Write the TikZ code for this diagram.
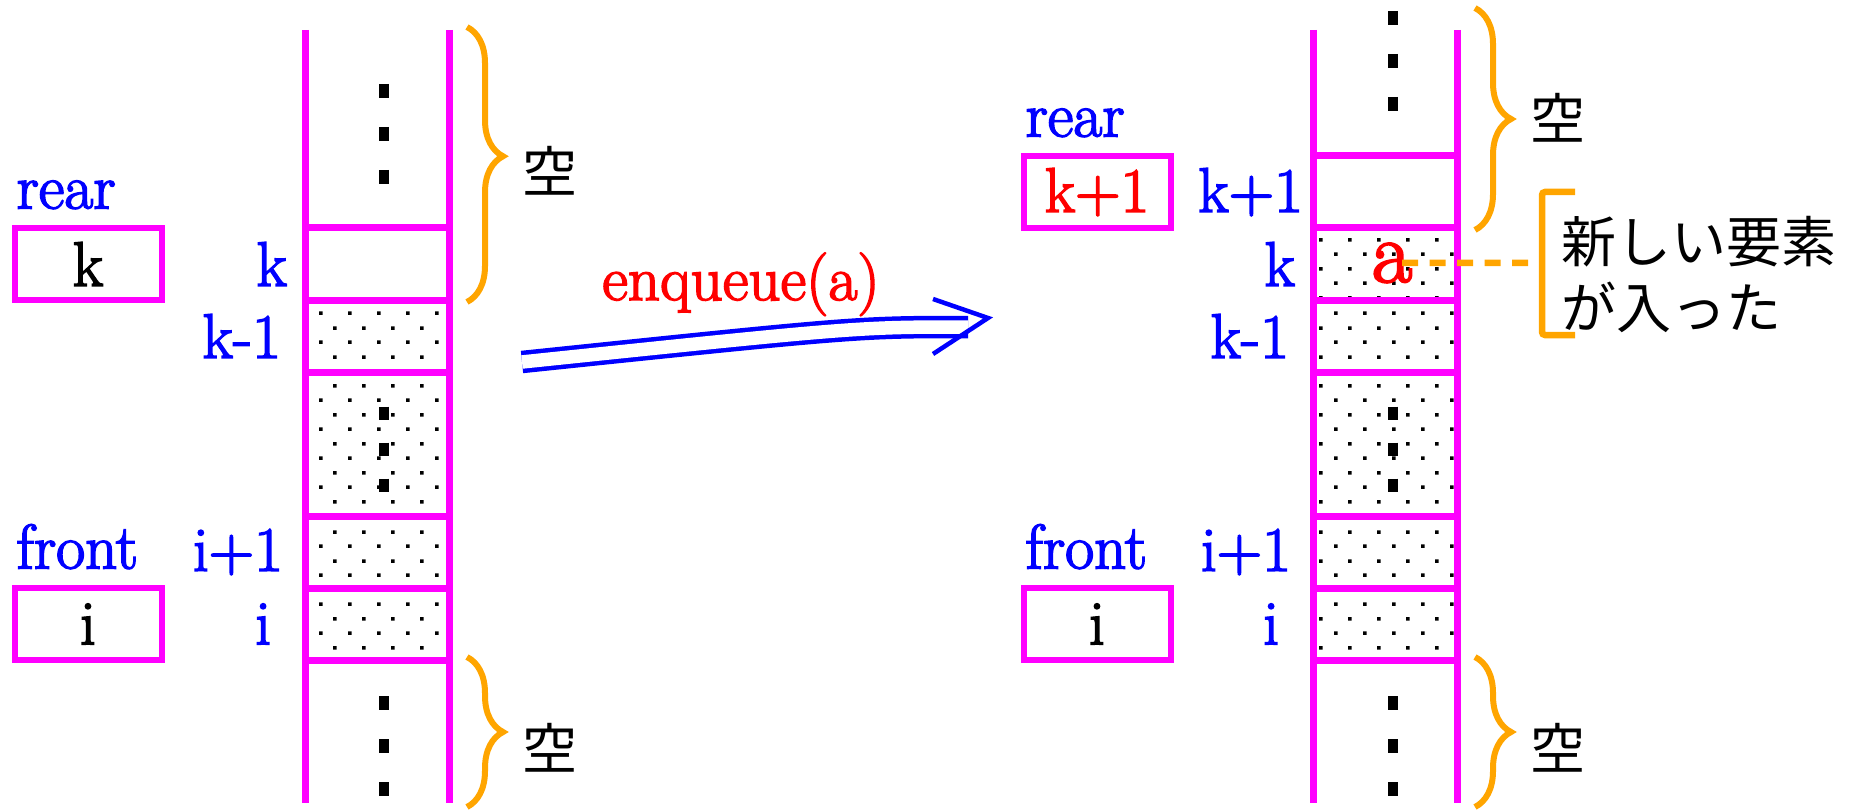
\documentclass[tikz,border=0pt]{standalone}
\usepackage{fontspec}
\setmainfont{Latin Modern Roman}[UprightFeatures={FakeBold=2.5}]
\newfontfamily\jpfont{Noto Sans CJK JP}
\usetikzlibrary{positioning,patterns.meta,decorations.pathreplacing}
\definecolor{braceorange}{RGB}{255,165,0}
\definecolor{wallmagenta}{RGB}{255,0,255}

\tikzdeclarepattern{
  name=celldots,
  type=uncolored,
  bottom left={(0pt,0pt)},
  top right={(29pt,29.2pt)},
  tile size={(29pt,29.2pt)},
  code={
    \fill (0pt,0pt) rectangle (3.6pt,3.6pt);
    \fill (14.5pt,14.6pt) rectangle (18.1pt,18.2pt);
  }
}

\begin{document}
\begin{tikzpicture}[x=1pt,y=-1pt,
  every node/.style={inner sep=0pt,outer sep=0pt},
  txt/.style={font=\fontsize{63}{70}\selectfont},
  jp/.style={font=\jpfont\fontsize{55}{66}\selectfont},
  cell/.style={draw=wallmagenta,line width=7pt,minimum width=144pt,minimum height=72pt},
  full cell/.style={cell,pattern=celldots},
  wall/.style={draw=wallmagenta,line width=7pt},
  ptr box/.style={txt,draw=wallmagenta,line width=6pt,minimum width=147pt,minimum height=72pt},
  var label/.style={txt,text=blue},
  idx/.style={txt,text=blue},
  new elem/.style={text=red,font=\fontsize{88}{96}\selectfont},
  empty brace/.style={draw=braceorange,line width=6pt,decorate,decoration={brace,amplitude=36pt}},
  vdotline/.style={line width=10pt,dash pattern=on 14pt off 29pt},
  op arrow/.style={draw=blue,line width=4.5pt,double=white,double distance=13.5pt},
  op head/.style={draw=blue,line width=4.5pt,line join=miter},
  note line/.style={draw=braceorange,line width=6.5pt,dash pattern=on 16pt off 11.5pt},
  bracket line/.style={draw=braceorange,line width=6.5pt,rounded corners=3pt}]

  \useasboundingbox (0,0) rectangle (1865,810);

  % before
  \node[cell] (lk) at (377,264) {};
  \node[full cell] (lkm) at (377,336) {};
  \node[full cell,minimum height=144pt] (lmid) at (377,444) {};
  \node[full cell] (lip) at (377,552) {};
  \node[full cell] (li) at (377,624) {};
  \draw[wall] (305,30) -- (305,803);
  \draw[wall] (449,30) -- (449,803);
  \draw[vdotline] (384,84) -- (384,184);
  \draw[vdotline,dash pattern=on 13pt off 23pt] (384,406.5) -- (384,491.5);
  \draw[vdotline] (384,696) -- (384,796);

  \node[idx] (lkL) [left=18pt of lk] {k};
  \node[idx] (lkmL) [left=24pt of lkm] {k-1};
  \node[idx] (lipL) [left=22pt of lip] {i+1};
  \node[idx] (liL) [left=34pt of li] {i};

  \node[ptr box] (lrear) at (88,264) {k};
  \node[ptr box] (lfront) at (88,624) {i};
  \node[var label] (lrearL) [above right=19pt and 2pt of lrear.north west] {rear};
  \node[var label] (lfrontL) [above right=19pt and 2pt of lfront.north west] {front};

  \draw[empty brace,decoration={aspect=0.47}] (467,27) -- (467,302);
  \draw[empty brace] (467,657) -- (467,807);
  \node[jp] (lemp1) at (550,171) {空};
  \node[jp] (lemp2) at (550,748) {空};

  % operation
  \coordinate (arrS) at (522,362);
  \coordinate (arrE) at (968,327);
  \coordinate (arrT) at (988,318);
  \draw[op arrow] (arrS) .. controls (858,327) .. (arrE);
  \draw[op head] (arrT) ++(-55,-19) -- (arrT) -- ++(-55,36);
  \node[txt,text=red,anchor=base] (enq) at (741,300) {enqueue(a)};

  % after
  \node[cell] (rkp) at (1385,192) {};
  \node[full cell] (rk) at (1385,264) {};
  \node[full cell] (rkm) at (1385,336) {};
  \node[full cell,minimum height=144pt] (rmid) at (1385,444) {};
  \node[full cell] (rip) at (1385,552) {};
  \node[full cell] (ri) at (1385,624) {};
  \draw[wall] (1313,30) -- (1313,803);
  \draw[wall] (1457,30) -- (1457,803);
  \draw[vdotline] (1393,11) -- (1393,112);
  \draw[vdotline,dash pattern=on 13pt off 23pt] (1393,406.5) -- (1393,491.5);
  \draw[vdotline] (1393,696) -- (1393,796);

  \node[idx] (rkpL) [left=10pt of rkp] {k+1};
  \node[idx] (rkL) [left=18pt of rk] {k};
  \node[idx] (rkmL) [left=24pt of rkm] {k-1};
  \node[idx] (ripL) [left=22pt of rip] {i+1};
  \node[idx] (riL) [left=34pt of ri] {i};

  \node[ptr box,text=red] (rrear) at (1097,192) {k+1};
  \node[ptr box] (rfront) at (1097,624) {i};
  \node[var label] (rrearL) [above right=19pt and 2pt of rrear.north west] {rear};
  \node[var label] (rfrontL) [above right=19pt and 2pt of rfront.north west] {front};

  \node[new elem,anchor=base] (anew) at (1392,282) {a};
  \coordinate (brk) at (1542,263);
  \draw[note line] ([xshift=10pt]anew.center) -- ([xshift=-14pt]brk);
  \draw[bracket line] (1575,192) -- (1542,192) -- (brk) -- (1542,335) -- (1575,335);
  \node[jp,align=left,anchor=north west] (newnote) at (1561,216) {新しい要素\\が入った};

  \draw[empty brace] (1475,8) -- (1475,230);
  \draw[empty brace] (1475,657) -- (1475,807);
  \node[jp] (remp1) at (1558,118) {空};
  \node[jp] (remp2) at (1558,748) {空};
\end{tikzpicture}
\end{document}
